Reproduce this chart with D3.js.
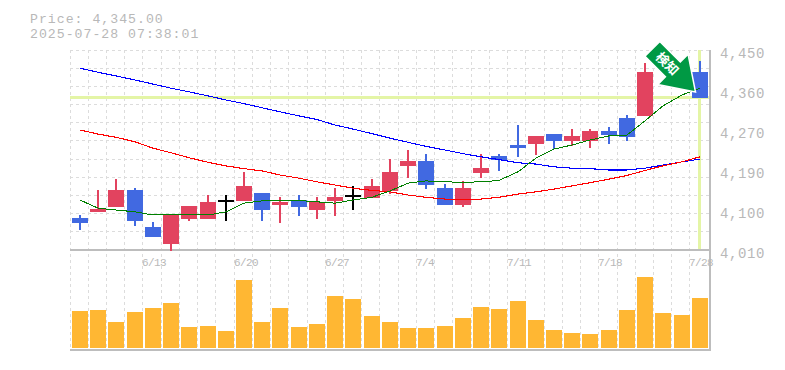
<!DOCTYPE html>
<html>
<head>
<meta charset="utf-8">
<script src="https://cdn.jsdelivr.net/npm/d3@7"></script>
<style>
  html, body { margin: 0; padding: 0; background: #fff; }
  text { font-family: "Liberation Mono", monospace; }
</style>
</head>
<body>
<div id="chart"></div>
<script>
// one trading day per entry, 7/24 and 7/25 candles sit behind the arrow
const dates = ["6/9","6/10","6/11","6/12","6/13","6/16","6/17","6/18","6/19","6/20","6/23","6/24","6/25","6/26","6/27","6/30","7/1","7/2","7/3","7/4","7/7","7/8","7/9","7/10","7/11","7/14","7/15","7/16","7/17","7/18","7/22","7/23","7/24","7/25","7/28"];
const opens  = [4080,4094,4105,4142,4061,4023,4078,4078,4120,4118,4135,4109,4120,4098,4118,4131,4124,4140,4195,4206,4146,4109,4179,4217,4241,4243,4265,4250,4250,4272,4300,4305,4417,4417,4402];
const highs  = [4087,4142,4166,4146,4072,4087,4107,4131,4131,4182,4135,4127,4131,4127,4146,4151,4166,4210,4230,4221,4155,4162,4221,4221,4285,4261,4265,4276,4276,4281,4307,4421,4446,4424,4426];
const lows   = [4054,4094,4105,4063,4039,4008,4074,4078,4074,4118,4074,4069,4085,4078,4085,4098,4124,4133,4168,4144,4109,4105,4168,4184,4215,4219,4232,4239,4234,4243,4250,4305,4415,4375,4345];
const closes = [4069,4100,4142,4074,4039,4087,4107,4116,4120,4151,4098,4116,4105,4116,4127,4131,4151,4182,4206,4153,4109,4146,4190,4208,4234,4261,4250,4261,4272,4263,4259,4402,4439,4384,4345];
const volumes = [37,38,26,36,40,45,21,22,17,68,26,40,21,24,52,49,32,26,20,20,22,30,41,39,47,28,18,15,14,18,38,71,35,33,50];

const maShort = [4120,4102,4098,4094,4087,4089,4088,4087,4094,4113,4118,4119,4119,4116,4113,4120,4126,4140,4157,4162,4160,4159,4160,4163,4182,4212,4232,4241,4252,4261,4263,4294,4327,4351,4366];
const maMid   = [4274,4265,4258,4248,4234,4224,4213,4203,4195,4189,4184,4175,4168,4160,4153,4146,4141,4138,4131,4126,4122,4121,4122,4126,4133,4138,4144,4151,4158,4166,4174,4185,4195,4204,4215];
const maLong  = [4410,4401,4393,4384,4375,4366,4358,4349,4340,4332,4323,4314,4305,4297,4285,4276,4266,4256,4247,4238,4230,4222,4215,4209,4202,4199,4193,4190,4189,4186,4186,4190,4197,4204,4210];

const priceTicks = [4450,4362,4274,4186,4098,4010];
const dateTicks = ["6/13","6/20","6/27","7/4","7/11","7/18","7/28"];
const currentPrice = 4345;
const signalLabel = "検知";

const width = 785, height = 370;
const plotLeft = 70, plotRight = 710, plotTop = 50, plotMid = 250, plotBottom = 350;

const svg = d3.select("#chart").append("svg")
    .attr("width", width)
    .attr("height", height)
    .style("display", "block");

const idx = d3.range(dates.length);
const x = d3.scaleBand().domain(idx).range([70.9, 709.1]);
const y = d3.scaleLinear().domain([4010,4450]).range([plotMid, plotTop]);
const v = d3.scaleLinear().domain([0,98]).range([348, plotMid]);

const gridX = d => (x(d) - 0.9) | 0;
const barX = d => Math.round(x(d) + 1);
const center = d => barX(d) + 8;

// dashed background grid
const grid = svg.append("g").attr("stroke", "#dcdcdc").attr("stroke-dasharray", "3,3");
grid.selectAll("line.v").data(idx).join("line")
    .attr("class", "v")
    .attr("x1", d => gridX(d) + 0.5).attr("x2", d => gridX(d) + 0.5)
    .attr("y1", plotTop).attr("y2", plotBottom);
grid.selectAll("line.h").data(d3.range(0, 11)).join("line")
    .attr("class", "h")
    .attr("x1", plotLeft).attr("x2", plotRight)
    .attr("y1", d => Math.floor(plotTop + d * (plotMid - plotTop) / 11) + 0.5)
    .attr("y2", d => Math.floor(plotTop + d * (plotMid - plotTop) / 11) + 0.5);

// last price cross hair
svg.append("line")
    .attr("x1", plotLeft).attr("x2", plotRight)
    .attr("y1", 97.5).attr("y2", 97.5)
    .attr("stroke", "#e4f5a6").attr("stroke-width", 3);
svg.append("line")
    .attr("x1", center(34) - 0.5).attr("x2", center(34) - 0.5)
    .attr("y1", plotTop).attr("y2", plotMid)
    .attr("stroke", "#e4f5a6").attr("stroke-width", 3);

// panel frame
const frame = svg.append("g").attr("stroke", "#bdbdbd").attr("stroke-width", 2);
frame.append("line").attr("x1", plotLeft).attr("x2", plotRight).attr("y1", plotMid).attr("y2", plotMid);
frame.append("line").attr("x1", plotLeft).attr("x2", plotRight).attr("y1", plotBottom).attr("y2", plotBottom);
frame.append("line").attr("x1", plotRight).attr("x2", plotRight).attr("y1", plotTop).attr("y2", plotBottom + 1);

// volume
svg.append("g").selectAll("rect").data(idx).join("rect")
    .attr("x", d => barX(d))
    .attr("width", 16)
    .attr("y", d => v(volumes[d]))
    .attr("height", d => v(0) - v(volumes[d]))
    .attr("fill", "#ffb733");

// candles
const candleColor = d => closes[d] > opens[d] ? "#e2435f" : closes[d] < opens[d] ? "#4169e1" : "#000";
const candles = svg.append("g");
candles.selectAll("line").data(idx).join("line")
    .attr("x1", d => center(d) - 0.5).attr("x2", d => center(d) - 0.5)
    .attr("y1", d => y(highs[d])).attr("y2", d => y(lows[d]))
    .attr("stroke", candleColor).attr("stroke-width", 2)
    .attr("shape-rendering", "crispEdges");
candles.selectAll("rect").data(idx).join("rect")
    .attr("x", d => barX(d))
    .attr("width", 16)
    .attr("y", d => y(Math.max(opens[d], closes[d])))
    .attr("height", d => Math.max(1.5, Math.abs(y(opens[d]) - y(closes[d]))))
    .attr("fill", candleColor)
    .attr("shape-rendering", "crispEdges");

// moving averages, aliased like the original image
const line = d3.line().x((d, i) => center(i)).y(d => y(d));
[[maLong, "#0000ff", 1.1], [maMid, "#ff0000", 1.1], [maShort, "#008000", 1]].forEach(([s, c, w]) => {
    svg.append("path").datum(s)
        .attr("fill", "none")
        .attr("stroke", c)
        .attr("stroke-width", w)
        .attr("shape-rendering", "crispEdges")
        .attr("d", line);
});

// price axis on the right
const yAxis = d3.axisRight(y)
    .tickValues(priceTicks)
    .tickSize(0)
    .tickPadding(0)
    .tickFormat(d => d3.format(",")(Math.round(d / 10) * 10));
svg.append("g")
    .attr("transform", "translate(720,3)")
    .call(yAxis)
    .call(g => g.select(".domain").remove())
    .selectAll("text")
    .attr("font-size", 14)
    .attr("letter-spacing", 0.6)
    .attr("font-family", "Liberation Mono")
    .attr("fill", "#b8b8b8");

// date labels start at the grid line of their day
svg.append("g").selectAll("text").data(dateTicks).join("text")
    .attr("x", d => gridX(dates.indexOf(d)))
    .attr("y", 266)
    .attr("font-size", 11)
    .attr("letter-spacing", -0.6)
    .attr("fill", "#b8b8b8")
    .text(d => d);

// header
const header = svg.append("g").attr("fill", "#b8b8b8").attr("font-size", 13.2).attr("letter-spacing", 1);
header.append("text").attr("x", 30).attr("y", 23).text("Price: " + d3.format(",.2f")(currentPrice));
header.append("text").attr("x", 30).attr("y", 38).text("2025-07-28 07:38:01");

// detection arrow, points at the last candle
const arrow = svg.append("g").attr("transform", `translate(${center(34) - 4.5},${y(currentPrice) - 5.7}) rotate(-45)`);
arrow.append("path")
    .attr("d", "M0,0 L-21.5,-32 L-10.5,-32 L-10.5,-61 L10.5,-61 L10.5,-32 L21.5,-32 Z")
    .attr("fill", "#009944")
    .attr("stroke", "#fff")
    .attr("stroke-width", 1.5);
arrow.append("text")
    .attr("transform", "translate(0,-40) rotate(90)")
    .attr("text-anchor", "middle")
    .attr("dy", "0.35em")
    .attr("font-size", 13)
    .attr("font-weight", "bold")
    .attr("fill", "#fff")
    .style("font-family", "Noto Sans CJK JP")
    .text(signalLabel);
</script>
</body>
</html>
